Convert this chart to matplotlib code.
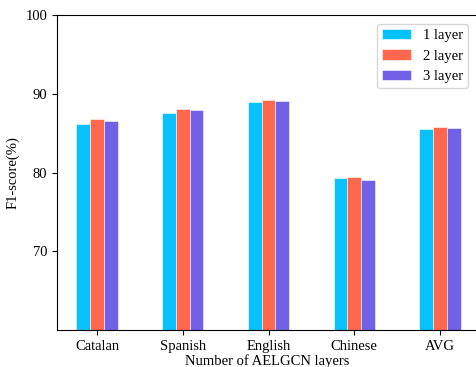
import numpy as np
import matplotlib
matplotlib.use("Agg")
import matplotlib.pyplot as plt

languages = ["Catalan", "Spanish", "English", "Chinese", "AVG"]
layer1 = [86.2, 87.6, 89.0, 79.3, 85.5]
layer2 = [86.75, 88.1, 89.2, 79.4, 85.8]
layer3 = [86.6, 88.0, 89.1, 79.1, 85.7]
series_names = ["1 layer", "2 layer", "3 layer"]
colors = ["#00BFFF", "#FF6347", "#6C5CE7"]


def main():
    plt.rcParams["font.family"] = ["Liberation Serif", "DejaVu Serif"]
    plt.rcParams["font.size"] = 10.5

    fig = plt.figure(figsize=(4.76, 3.67), dpi=100)
    ax = fig.add_axes([57 / 476, 1 - 330 / 367, 419.5 / 476, 315 / 367])

    x = np.arange(len(languages))
    w = 0.16
    for i, (vals, name, c) in enumerate(zip([layer1, layer2, layer3], series_names, colors)):
        ax.bar(x + (i - 1) * w, vals, w, color=c, label=name,
               edgecolor="#ffffff", linewidth=0.4, alpha=0.97)

    ax.set_ylim(60, 100)
    ax.set_yticks([70, 80, 90, 100])
    ax.set_xticks(x)
    ax.set_xticklabels(languages)
    ax.set_xlim(-0.4665, 4.4255)
    ax.spines["right"].set_visible(False)
    ax.set_xlabel("Number of AELGCN layers", labelpad=1)
    ax.set_ylabel("F1-score(%)")
    ax.legend(loc="upper right", borderpad=0.35, borderaxespad=0.6)

    fig.savefig("out.png", dpi=100)


if __name__ == "__main__":
    main()
